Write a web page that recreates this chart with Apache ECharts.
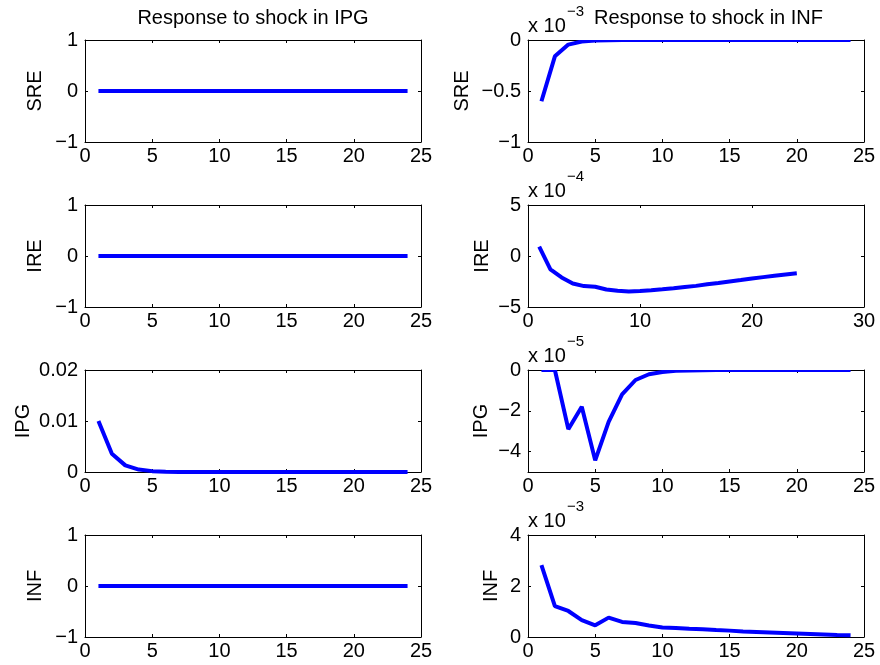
<!DOCTYPE html>
<html>
<head>
<meta charset="utf-8">
<script src="https://cdn.jsdelivr.net/npm/echarts@6/dist/echarts.min.js"></script>
<style>
  html, body { margin: 0; padding: 0; background: #fff; }
  #chart { width: 880px; height: 665px; }
</style>
</head>
<body>
<div id="chart"></div>
<script>
// Impulse response horizon
const periods = [1, 2, 3, 4, 5, 6, 7, 8, 9, 10, 11, 12, 13, 14, 15, 16, 17, 18, 19, 20, 21, 22, 23, 24];

// Responses to a shock in IPG
const ipgShockSRE = [0, 0, 0, 0, 0, 0, 0, 0, 0, 0, 0, 0, 0, 0, 0, 0, 0, 0, 0, 0, 0, 0, 0, 0];
const ipgShockIRE = [0, 0, 0, 0, 0, 0, 0, 0, 0, 0, 0, 0, 0, 0, 0, 0, 0, 0, 0, 0, 0, 0, 0, 0];
const ipgShockIPG = [0.0100, 0.0036, 0.0013, 0.00047, 0.00017, 0.00006, 0.00002, 0.00001,
                     0, 0, 0, 0, 0, 0, 0, 0, 0, 0, 0, 0, 0, 0, 0, 0];
const ipgShockINF = [0, 0, 0, 0, 0, 0, 0, 0, 0, 0, 0, 0, 0, 0, 0, 0, 0, 0, 0, 0, 0, 0, 0, 0];

// Responses to a shock in INF
const infShockSRE = [-0.60e-3, -0.16e-3, -0.045e-3, -0.015e-3, -0.005e-3, -0.0015e-3, -0.0005e-3, -0.0002e-3,
                     0, 0, 0, 0, 0, 0, 0, 0, 0, 0, 0, 0, 0, 0, 0, 0];
const infShockIRE = [0.92e-4, -1.31e-4, -2.10e-4, -2.69e-4, -2.95e-4, -3.02e-4, -3.28e-4, -3.41e-4,
                     -3.48e-4, -3.44e-4, -3.36e-4, -3.27e-4, -3.17e-4, -3.05e-4, -2.93e-4, -2.78e-4,
                     -2.64e-4, -2.49e-4, -2.35e-4, -2.20e-4, -2.07e-4, -1.94e-4, -1.82e-4, -1.70e-4];
const infShockIPG = [0, 0, -2.90e-5, -1.80e-5, -4.43e-5, -2.54e-5, -1.20e-5, -0.49e-5,
                     -0.21e-5, -0.10e-5, -0.04e-5, -0.02e-5, -0.01e-5, 0, 0, 0,
                     0, 0, 0, 0, 0, 0, 0, 0];
const infShockINF = [2.82e-3, 1.21e-3, 1.02e-3, 0.66e-3, 0.46e-3, 0.76e-3, 0.59e-3, 0.55e-3,
                     0.45e-3, 0.37e-3, 0.35e-3, 0.32e-3, 0.30e-3, 0.27e-3, 0.25e-3, 0.22e-3,
                     0.20e-3, 0.18e-3, 0.16e-3, 0.14e-3, 0.12e-3, 0.10e-3, 0.08e-3, 0.07e-3];

// Column headings and tick values that are not evenly spaced from the minimum
const columnTitles = ['Response to shock in IPG', 'Response to shock in INF'];
const infIpgTicks = [-4e-5, -2e-5, 0];

const FONT = '"Liberation Sans", Arial, Helvetica, sans-serif';
const BLACK = '#000';
const LINE_W = 4;

// One entry per subplot
const panels = [
  { col: 0, row: 0, data: ipgShockSRE, name: 'SRE', yMin: -1, yMax: 1, yInt: 1, xMax: 25, xInt: 5, exp: 0, gap: 40 },
  { col: 0, row: 1, data: ipgShockIRE, name: 'IRE', yMin: -1, yMax: 1, yInt: 1, xMax: 25, xInt: 5, exp: 0, gap: 40 },
  { col: 0, row: 2, data: ipgShockIPG, name: 'IPG', yMin: 0, yMax: 0.02, yInt: 0.01, xMax: 25, xInt: 5, exp: 0, gap: 52 },
  { col: 0, row: 3, data: ipgShockINF, name: 'INF', yMin: -1, yMax: 1, yInt: 1, xMax: 25, xInt: 5, exp: 0, gap: 40 },
  { col: 1, row: 0, data: infShockSRE, name: 'SRE', yMin: -1e-3, yMax: 0, yInt: 0.5e-3, xMax: 25, xInt: 5, exp: -3, gap: 56 },
  { col: 1, row: 1, data: infShockIRE, name: 'IRE', yMin: -5e-4, yMax: 5e-4, yInt: 5e-4, xMax: 30, xInt: 10, exp: -4, gap: 36 },
  { col: 1, row: 2, data: infShockIPG, name: 'IPG', yMin: -5e-5, yMax: 0, yInt: 1e-5, xMax: 25, xInt: 5, exp: -5, gap: 37, ticks: infIpgTicks },
  { col: 1, row: 3, data: infShockINF, name: 'INF', yMin: 0, yMax: 4e-3, yInt: 2e-3, xMax: 25, xInt: 5, exp: -3, gap: 27 }
];

const GRID_LEFT = [85, 528];
const GRID_TOP0 = 40;
const ROW_STEP = 165;
const GRID_W = 336;
const GRID_H = 102;

function fmt(v, exp) {
  const n = +(v / Math.pow(10, exp)).toFixed(8);
  return String(n).replace('-', '\u2212');
}

const grids = [], xAxes = [], yAxes = [], series = [], graphics = [];

panels.forEach((p, i) => {
  const left = GRID_LEFT[p.col];
  const top = GRID_TOP0 + p.row * ROW_STEP;
  grids.push({ left: left, top: top, width: GRID_W, height: GRID_H, containLabel: false });

  const axisLine = { onZero: false, lineStyle: { color: BLACK, width: 1 } };
  const tick = { inside: true, length: 3, lineStyle: { color: BLACK, width: 1 } };
  const xBase = { type: 'value', gridIndex: i, min: 0, max: p.xMax, interval: p.xInt,
                  axisLine: axisLine, splitLine: { show: false } };
  xAxes.push(Object.assign({}, xBase, {
    position: 'bottom', axisTick: tick,
    axisLabel: { color: BLACK, fontSize: 20, fontFamily: FONT, margin: 4 }
  }));
  xAxes.push(Object.assign({}, xBase, {
    position: 'top', axisTick: tick, axisLabel: { show: false }
  }));

  const yTick = p.ticks ? Object.assign({}, tick, { customValues: p.ticks }) : tick;
  const yBase = { type: 'value', gridIndex: i, min: p.yMin, max: p.yMax, interval: p.yInt,
                  axisLine: axisLine, splitLine: { show: false } };
  const yLabel = { color: BLACK, fontSize: 20, fontFamily: FONT, margin: 7,
                   formatter: v => fmt(v, p.exp) };
  if (p.ticks) yLabel.customValues = p.ticks;
  yAxes.push(Object.assign({}, yBase, {
    position: 'left', axisTick: yTick, axisLabel: yLabel,
    name: p.name, nameLocation: 'middle', nameGap: p.gap, nameRotate: 90,
    nameTextStyle: { color: BLACK, fontSize: 20, fontFamily: FONT }
  }));
  yAxes.push(Object.assign({}, yBase, {
    position: 'right', axisTick: yTick, axisLabel: { show: false }
  }));

  series.push({
    type: 'line',
    xAxisIndex: 2 * i,
    yAxisIndex: 2 * i,
    data: periods.map((x, k) => [x, p.data[k]]),
    showSymbol: false,
    symbol: 'none',
    clip: true,
    lineStyle: { color: '#0000ff', width: LINE_W },
    itemStyle: { color: '#0000ff' },
    emphasis: { disabled: true },
    animation: false
  });

  // Hard clip at the plot box: the series clip path is padded by half the
  // line width, so paint out the strip just outside the top edge.
  graphics.push({
    type: 'rect', silent: true, z: 50,
    shape: { x: left + 1, y: top - LINE_W, width: GRID_W - 2, height: LINE_W },
    style: { fill: '#fff' }
  });

  // Exponent multiplier above the axis, e.g. "x 10^-3"
  if (p.exp !== 0) {
    graphics.push({
      type: 'text', silent: true, z: 60,
      style: { x: left, y: top - 13.5, text: 'x 10', fill: BLACK,
               font: '20px ' + FONT, align: 'left', verticalAlign: 'middle',
               textAlign: 'left', textVerticalAlign: 'middle' }
    });
    graphics.push({
      type: 'text', silent: true, z: 60,
      style: { x: left + 39, y: top - 28, text: '\u2212' + Math.abs(p.exp), fill: BLACK,
               font: '15px ' + FONT, align: 'left', verticalAlign: 'middle',
               textAlign: 'left', textVerticalAlign: 'middle' }
    });
  }
});

// Column headings
[253, 708.5].forEach((cx, c) => {
  graphics.push({
    type: 'text', silent: true, z: 60,
    style: { x: cx, y: 18, text: columnTitles[c], fill: BLACK,
             font: '20px ' + FONT, align: 'center', verticalAlign: 'middle',
             textAlign: 'center', textVerticalAlign: 'middle' }
  });
});

const chart = echarts.init(document.getElementById('chart'), null, { renderer: 'canvas' });
chart.setOption({
  animation: false,
  backgroundColor: '#fff',
  grid: grids,
  xAxis: xAxes,
  yAxis: yAxes,
  series: series,
  graphic: graphics
});
</script>
</body>
</html>
